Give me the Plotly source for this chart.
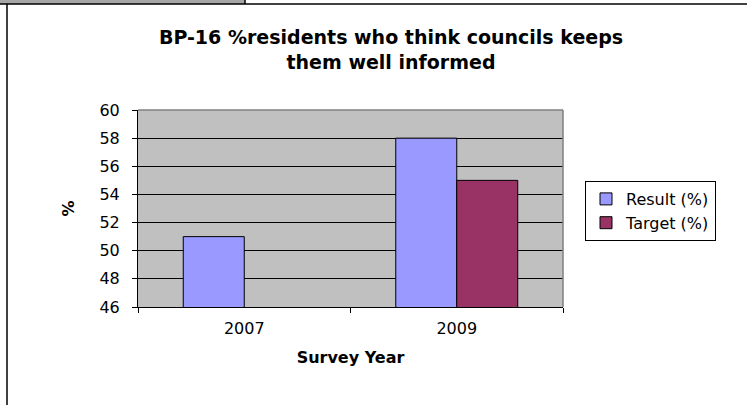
import plotly.graph_objects as go

years = ["2007", "2009"]
result_pct = [51, 58]
target_pct = [None, 55]
y_ticks = [46, 48, 50, 52, 54, 56, 58, 60]

W, H = 747, 405
L, R, T, B = 138, 563, 110, 307  # plot area in pixels


def xp(px):
    return (px - L) / (R - L)


def yp(py):
    return (B - py) / (B - T)


FONT = "DejaVu Sans"

fig = go.Figure()
fig.add_trace(go.Bar(
    name="Result (%)", x=years, y=result_pct,
    marker=dict(color="#9999FF", line=dict(color="#000000", width=1)),
))
fig.add_trace(go.Bar(
    name="Target (%)", x=years, y=target_pct,
    marker=dict(color="#993366", line=dict(color="#000000", width=1)),
))

shapes = [
    # plot area border (top & right) in gray
    dict(type="line", xref="paper", yref="paper", x0=0, x1=1, y0=1, y1=1,
         line=dict(color="#808080", width=1.5), layer="above"),
    dict(type="line", xref="paper", yref="paper", x0=1, x1=1, y0=0, y1=1,
         line=dict(color="#808080", width=1.5), layer="above"),
    # page frame fragments
    dict(type="rect", xref="paper", yref="paper", x0=xp(0), x1=xp(245),
         y0=yp(4), y1=yp(-2), fillcolor="#A6A6A6", line=dict(width=0)),
    dict(type="line", xref="paper", yref="paper", x0=xp(245), x1=xp(245),
         y0=yp(4), y1=yp(-2), line=dict(color="#000000", width=1.5)),
    dict(type="line", xref="paper", yref="paper", x0=xp(-2), x1=xp(750),
         y0=yp(4), y1=yp(4), line=dict(color="#000000", width=1.5)),
    dict(type="line", xref="paper", yref="paper", x0=xp(7), x1=xp(7),
         y0=yp(4), y1=yp(410), line=dict(color="#000000", width=1.5)),
]

fig.update_layout(
    width=W, height=H,
    margin=dict(l=L, r=W - R, t=T, b=H - B, autoexpand=False),
    paper_bgcolor="#FFFFFF",
    plot_bgcolor="#C0C0C0",
    barmode="group",
    bargap=0.426,
    bargroupgap=0,
    font=dict(family=FONT, size=16, color="#000000"),
    title=dict(
        text="<b>BP-16 %residents who think councils keeps<br>them well informed</b>",
        x=391 / W, xanchor="center", xref="container",
        y=1 - 44 / H, yanchor="middle", yref="container",
        font=dict(family=FONT, size=19, color="#000000"),
    ),
    xaxis=dict(
        type="category",
        showline=True, linecolor="#000000", linewidth=1,
        ticks="outside", tickson="boundaries", ticklen=5, tickcolor="#000000",
        showgrid=False,
        ticklabelstandoff=7,
        title=dict(text="<b>Survey Year</b>", standoff=14,
                   font=dict(family=FONT, size=16)),
    ),
    yaxis=dict(
        range=[46, 60], tickvals=y_ticks, ticktext=[str(v) for v in y_ticks],
        showline=True, linecolor="#000000", linewidth=1,
        ticks="outside", ticklen=5, tickcolor="#000000",
        showgrid=True, gridcolor="#000000", gridwidth=1,
        zeroline=False,
        ticklabelstandoff=9,
        title=dict(text="<b>%</b>", standoff=20,
                   font=dict(family=FONT, size=16)),
    ),
    legend=dict(
        x=xp(585), y=yp(181), xanchor="left", yanchor="top",
        bordercolor="#000000", borderwidth=1, bgcolor="#FFFFFF",
        font=dict(family=FONT, size=16),
        tracegroupgap=0,
    ),
    shapes=shapes,
    showlegend=True,
)

fig.write_html("out.html")
